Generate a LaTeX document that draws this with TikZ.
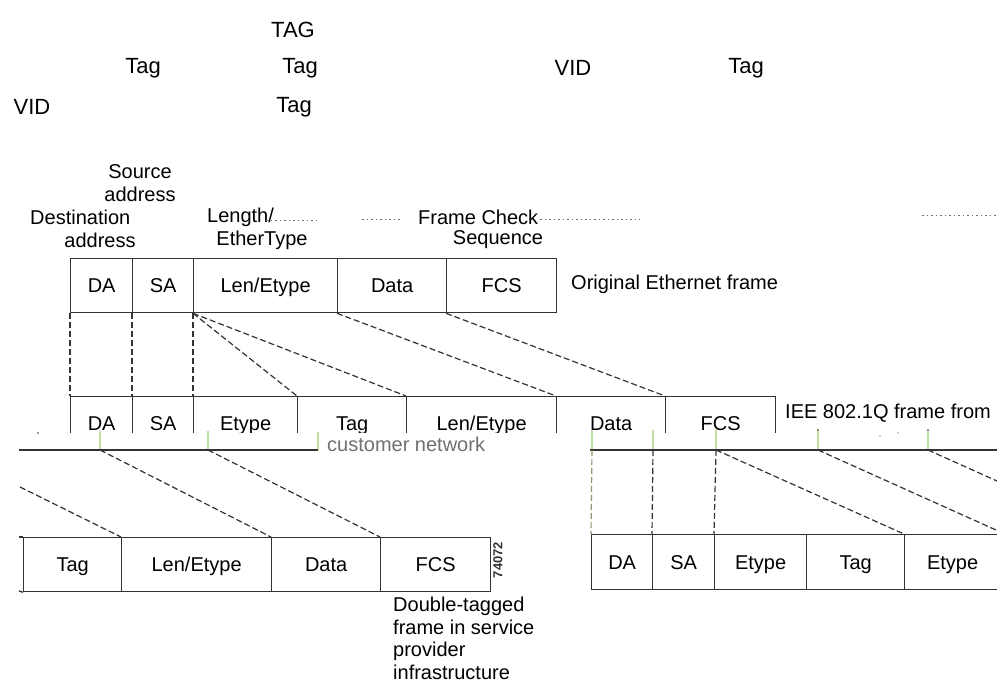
\documentclass[tikz,border=0pt]{standalone}
\usepackage{fontspec}
\setmainfont{Liberation Sans}
\definecolor{lineclr}{HTML}{333333}
\definecolor{tickclr}{HTML}{C2DFA2}
\definecolor{garbleclr}{HTML}{707070}
\newcommand{\diagfont}{\fontsize{20}{22.5}\selectfont}
\newcommand{\headfont}{\fontsize{22}{24}\selectfont}
\begin{document}
\begin{tikzpicture}[x=1pt,y=-1pt,
  cell/.style={draw=lineclr, line width=1.3pt, inner sep=0pt, anchor=north west,
               minimum height=54pt, font=\diagfont, text=black,
               text height=14.3pt, text depth=0pt},
  lbl/.style={inner sep=0pt, font=\diagfont, text=black},
  head/.style={inner sep=0pt, font=\headfont, text=black},
  link/.style={draw=lineclr, line width=1.2pt, dash pattern=on 6pt off 3pt},
  rail/.style={draw=lineclr, line width=1.3pt},
  tick/.style={draw=tickclr, line width=1.5pt},
  garble/.style={draw=garbleclr, line width=1pt, dash pattern=on 1.5pt off 3pt}]
\useasboundingbox (0,0) rectangle (997,684);
\clip (0,0) rectangle (997,684);

% heading words
\node[head] (h1) at (293,30) {TAG};
\node[head] (h2) at (143,68) {Tag};
\node[head] (h3) at (300,68) {Tag};
\node[head] (h4) at (573,68) {VID};
\node[head] (h5) at (746,68) {Tag};
\node[head] (h6) at (32,107) {VID};
\node[head] (h7) at (294,107) {Tag};

% field captions above the original frame
\node[lbl] (srcA) at (140,172) {Source};
\node[lbl] (srcB) at (140,194) {address};
\node[lbl, anchor=west] (dstA) at (30,217) {Destination};
\node[lbl] (dstB) at (100,240) {address};
\node[lbl, anchor=west] (lenA) at (207,217) {Length/};
\node[lbl] (lenB) at (262,240) {EtherType};
\node[lbl, anchor=west] (fcsA) at (418,217) {Frame Check};
\node[lbl] (fcsB) at (498,240) {Sequence};
\coordinate (g1a) at (266,221); \coordinate (g1b) at (318,221);
\coordinate (g2a) at (362,220); \coordinate (g2b) at (402,220);
\coordinate (g3a) at (540,220); \coordinate (g3b) at (640,220);
\coordinate (g4a) at (922,216); \coordinate (g4b) at (997,216);
\draw[garble] (g1a) -- (g1b);
\draw[garble] (g2a) -- (g2b);
\draw[garble] (g3a) -- (g3b);
\draw[garble] (g4a) -- (g4b);

% original Ethernet frame
\node[cell, minimum width=62pt]  (r1da)   at (70,258)  {DA};
\node[cell, minimum width=61pt]  (r1sa)   at (132,258) {SA};
\node[cell, minimum width=144pt] (r1len)  at (193,258) {Len/Etype};
\node[cell, minimum width=109pt] (r1data) at (337,258) {Data};
\node[cell, minimum width=110pt] (r1fcs)  at (446,258) {FCS};
\node[lbl, anchor=west] (r1cap) at (571,284) {Original Ethernet frame};

% 802.1Q frame (lower part cut away)
\begin{scope}
\clip (0,0) rectangle (997,433);
\node[cell, minimum width=62pt]  (r2da)   at (70,396)  {DA};
\node[cell, minimum width=61pt]  (r2sa)   at (132,396) {SA};
\node[cell, minimum width=104pt] (r2et)   at (193,396) {Etype};
\node[cell, minimum width=109pt] (r2tag)  at (297,396) {Tag};
\node[cell, minimum width=150pt] (r2len)  at (406,396) {Len/Etype};
\node[cell, minimum width=109pt] (r2data) at (556,396) {Data};
\node[cell, minimum width=110pt] (r2fcs)  at (665,396) {FCS};
\end{scope}
\node[lbl, anchor=west] (r2cap) at (785,413) {IEE 802.1Q frame from};
\node[lbl, anchor=west, fill=white, text=garbleclr, inner sep=0pt] (r2capB) at (327,444) {customer network};

\draw[link] (r1da.south west) -- (r2da.north west);
\draw[link] (r1sa.south west) -- (r2sa.north west);
\draw[link] (r1len.south west) -- (r2et.north west);
\draw[link] (r1len.south west) -- (r2tag.north west);
\draw[link] (r1len.south west) -- (r2len.north west);
\draw[link] (r1data.south west) -- (r2data.north west);
\draw[link] (r1fcs.south west) -- (r2fcs.north west);

% left rail and its ticks
\coordinate (la) at (19,450);  \coordinate (lb) at (318,450);
\coordinate (lt1) at (100,450); \coordinate (lt2) at (208,450);
\coordinate (lt1u) at (100,431); \coordinate (lt2u) at (208,431); \coordinate (lbu) at (318,432);
\draw[tick] (lt1u) -- (lt1);
\draw[tick] (lt2u) -- (lt2);
\draw[tick] (lbu) -- (lb);
\draw[rail] (la) -- (lb);
\fill[lineclr] (38,433) circle (0.9pt);

% right rail and its ticks
\coordinate (ra) at (590,450);  \coordinate (rb) at (997,450);
\coordinate (rt1) at (592,450); \coordinate (rt2) at (653,450); \coordinate (rt3) at (716,450);
\coordinate (rt4) at (818,450); \coordinate (rt5) at (928,450);
\foreach \p/\x in {rt1/592, rt2/653, rt3/716, rt4/818, rt5/928}
  \draw[tick] (\x,430) -- (\p);
\draw[rail] (ra) -- (rb);
\fill[lineclr] (818,430) circle (0.9pt);
\fill[lineclr] (928,430) circle (0.9pt);
\fill[lineclr] (880,436) circle (0.6pt);
\fill[lineclr] (898,433) circle (0.6pt);

% double-tagged frame, left part
\node[cell, minimum width=98pt]  (r4tag)  at (23,537)  {Tag};
\node[cell, minimum width=150pt] (r4len)  at (121,537) {Len/Etype};
\node[cell, minimum width=109pt] (r4data) at (271,537) {Data};
\node[cell, minimum width=110pt] (r4fcs)  at (380,537) {FCS};
\coordinate (r4l1) at (19,537); \coordinate (r4l2) at (19,591);
\draw[rail] (r4l1) -- (r4tag.north west);
\draw[rail] (r4l2) -- (r4tag.south west);
\node[inner sep=0pt, rotate=90, font=\fontsize{13}{13}\selectfont\bfseries, text=lineclr] (fig) at (498,560) {74072};
\node[lbl, anchor=north west, align=left] (r4cap) at (393,597)
  {Double-tagged\\frame in service\\provider\\infrastructure};

\coordinate (lx) at (20,487);
\draw[link] (lx) -- (r4len.north west);
\draw[link] (lt1) -- (r4data.north west);
\draw[link] (lt2) -- (r4fcs.north west);

% double-tagged frame, right part
\node[cell, minimum width=61pt, minimum height=55pt] (r5da)  at (591,534) {DA};
\node[cell, minimum width=62pt, minimum height=55pt] (r5sa)  at (652,534) {SA};
\node[cell, minimum width=92pt, minimum height=55pt] (r5et)  at (714,534) {Etype};
\node[cell, minimum width=98pt, minimum height=55pt] (r5tag) at (806,534) {Tag};
\node[cell, minimum width=96pt, minimum height=55pt] (r5et2) at (904,534) {Etype};

\coordinate (rx1) at (1016,539); \coordinate (rx2) at (1126,539);
\draw[link, draw=tickclr!60!lineclr] (rt1) -- (r5da.north west);
\draw[link] (rt2) -- (r5sa.north west);
\draw[link] (rt3) -- (r5et.north west);
\draw[link] (rt3) -- (r5et2.north west);
\draw[link] (rt4) -- (rx1);
\draw[link] (rt5) -- (rx2);
\end{tikzpicture}
\end{document}
